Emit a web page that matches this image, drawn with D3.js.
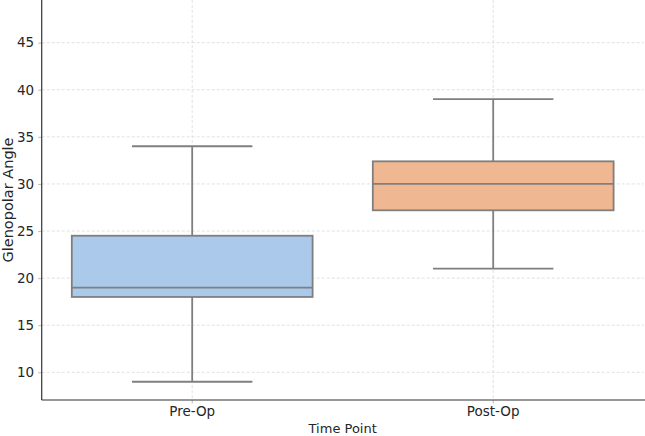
<!DOCTYPE html>
<html><head><meta charset="utf-8">
<script src="https://cdn.jsdelivr.net/npm/d3@7/dist/d3.min.js"></script>
<style>body{margin:0;background:#fff}svg{display:block}text{font-family:"DejaVu Sans",sans-serif}</style>
</head><body>
<svg id="c" width="645" height="436"></svg>
<script>
const categories = ["Pre-Op", "Post-Op"];
const whiskerLow = [9, 21];
const q1 = [18, 27.2];
const median = [19, 30];
const q3 = [24.5, 32.4];
const whiskerHigh = [34, 39];
const fills = ["#abc9ea", "#efb792"];
const yTicks = [10, 15, 20, 25, 30, 35, 40, 45];

const svg = d3.select("#c");
const L = 41.7, R = 643.7, T = 0, B = 400;
const y = d3.scaleLinear().domain([7.06, 49.53]).range([B, T]);
const x = d3.scaleBand().domain(categories).range([L, R]).paddingInner(0).paddingOuter(0);
const bw = x.bandwidth();

// grid
const g = svg.append("g");
g.selectAll(".hg").data(yTicks).join("line")
  .attr("x1", L).attr("x2", R).attr("y1", d => y(d)).attr("y2", d => y(d))
  .attr("stroke", "#d9d9d9").attr("stroke-width", 0.8).attr("stroke-dasharray", "3,2");
g.selectAll(".vg").data(categories).join("line")
  .attr("x1", d => x(d) + bw / 2).attr("x2", d => x(d) + bw / 2).attr("y1", T).attr("y2", B)
  .attr("stroke", "#d9d9d9").attr("stroke-width", 0.8).attr("stroke-dasharray", "3,2");

const edge = "#7f7f7f";
const data = categories.map((c, i) => ({c, lo: whiskerLow[i], q1: q1[i], med: median[i], q3: q3[i], hi: whiskerHigh[i], fill: fills[i]}));
const bx = svg.append("g");
data.forEach(d => {
  const cx = x(d.c) + bw / 2;
  const gr = bx.append("g");
  gr.append("line").attr("x1", cx).attr("x2", cx).attr("y1", y(d.q3)).attr("y2", y(d.hi)).attr("stroke", edge).attr("stroke-width", 1.8);
  gr.append("line").attr("x1", cx).attr("x2", cx).attr("y1", y(d.q1)).attr("y2", y(d.lo)).attr("stroke", edge).attr("stroke-width", 1.8);
  gr.append("line").attr("x1", cx - bw * 0.2).attr("x2", cx + bw * 0.2).attr("y1", y(d.hi)).attr("y2", y(d.hi)).attr("stroke", edge).attr("stroke-width", 1.8);
  gr.append("line").attr("x1", cx - bw * 0.2).attr("x2", cx + bw * 0.2).attr("y1", y(d.lo)).attr("y2", y(d.lo)).attr("stroke", edge).attr("stroke-width", 1.8);
  gr.append("rect").attr("x", cx - bw * 0.4).attr("width", bw * 0.8)
    .attr("y", y(d.q3)).attr("height", y(d.q1) - y(d.q3))
    .attr("fill", d.fill).attr("stroke", edge).attr("stroke-width", 1.8);
  gr.append("line").attr("x1", cx - bw * 0.4).attr("x2", cx + bw * 0.4).attr("y1", y(d.med)).attr("y2", y(d.med)).attr("stroke", edge).attr("stroke-width", 1.8);
});

// axes
const ya = svg.append("g").attr("transform", `translate(${L},0)`)
  .call(d3.axisLeft(y).tickValues(yTicks).tickSize(3.5).tickPadding(4));
ya.select(".domain").remove();
ya.selectAll(".tick line").attr("stroke", "#bbbbbb");
ya.selectAll("text").attr("font-size", 13.5).attr("fill", "#262626");

const xa = svg.append("g").attr("transform", `translate(0,${B})`)
  .call(d3.axisBottom(x).tickSize(3.5).tickPadding(3));
xa.select(".domain").remove();
xa.selectAll(".tick line").attr("stroke", "#bbbbbb");
xa.selectAll("text").attr("font-size", 13.5).attr("fill", "#262626");

svg.append("line").attr("x1", L).attr("x2", L).attr("y1", T).attr("y2", B).attr("stroke", "#333").attr("stroke-width", 1.2);
svg.append("line").attr("x1", L).attr("x2", R + 2).attr("y1", B).attr("y2", B).attr("stroke", "#333").attr("stroke-width", 1.2);

svg.append("text").attr("x", (L + R) / 2).attr("y", 433).attr("text-anchor", "middle")
  .attr("font-size", 13).attr("fill", "#262626").text("Time Point");
svg.append("text").attr("transform", `translate(12.5,200) rotate(-90)`).attr("text-anchor", "middle")
  .attr("font-size", 14.5).attr("fill", "#262626").text("Glenopolar Angle");
</script>
</body></html>
